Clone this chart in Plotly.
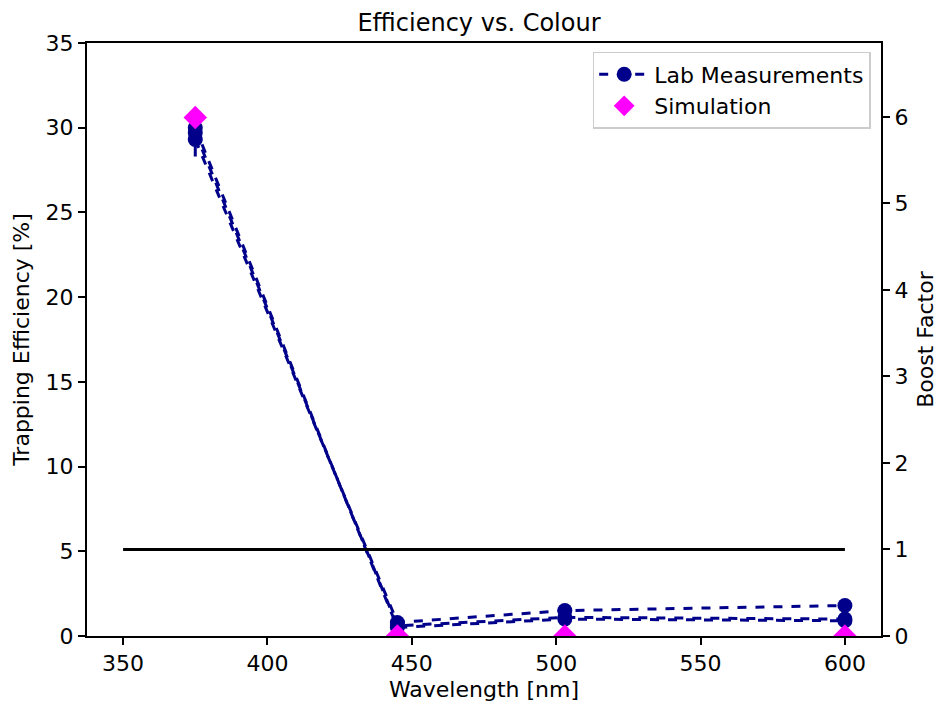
import plotly.graph_objects as go

wavelengths = [375, 445, 503, 600]
lab_series = [
    [29.3, 0.8, 1.5, 1.8],
    [29.7, 0.6, 1.1, 1.0],
    [30.0, 0.5, 1.0, 0.9],
]
lab_errors = [
    [1.0, 0.1, 0.1, 0.1],
    [0.5, 0.1, 0.1, 0.1],
    [0.5, 0.1, 0.1, 0.1],
]
sim_values = [30.6, 0.0, 0.0, 0.0]
boost_x = [350, 600]
boost_y = [1.0, 1.0]

navy = "#00008B"
font = "DejaVu Sans"
fs = 22

fig = go.Figure()
for i, (vals, errs) in enumerate(zip(lab_series, lab_errors)):
    fig.add_trace(go.Scatter(
        x=wavelengths, y=vals, mode="lines+markers",
        name="Lab Measurements", showlegend=(i == 0),
        line=dict(color=navy, width=3, dash="dash"),
        marker=dict(color=navy, size=15, symbol="circle"),
        error_y=dict(type="data", array=errs, color=navy, thickness=3, width=0),
    ))
fig.add_trace(go.Scatter(
    x=wavelengths, y=sim_values, mode="markers", name="Simulation",
    marker=dict(color="#FF00FF", size=18, symbol="diamond"),
))
fig.add_trace(go.Scatter(
    x=boost_x, y=boost_y, mode="lines", showlegend=False, yaxis="y2",
    line=dict(color="black", width=3),
))

axis_common = dict(
    showline=True, linecolor="black", linewidth=2, ticks="outside",
    ticklen=7, tickwidth=1.5, tickcolor="black", showgrid=False,
    zeroline=False, tickfont=dict(size=fs, color="black", family=font),
)
fig.update_layout(
    width=942, height=709,
    paper_bgcolor="white", plot_bgcolor="white",
    margin=dict(l=79, r=69, t=35, b=81, autoexpand=False),
    font=dict(family=font, color="black", size=fs),
    title=dict(text="Efficiency vs. Colour", x=0.5, xanchor="center",
               y=0.979, yanchor="middle", font=dict(size=24)),
    xaxis=dict(range=[337.5, 612.5], tickvals=[350, 400, 450, 500, 550, 600],
               title=dict(text="Wavelength [nm]", standoff=6, font=dict(size=fs)),
               mirror=True, **axis_common),
    yaxis=dict(range=[0, 35], dtick=5,
               title=dict(text="Trapping Efficiency [%]", standoff=10, font=dict(size=fs)),
               **axis_common),
    yaxis2=dict(range=[0, 6.855], dtick=1, overlaying="y", side="right",
                title=dict(text="Boost Factor", standoff=10, font=dict(size=fs)),
                **axis_common),
    legend=dict(x=0.987, y=0.985, xanchor="right", yanchor="top", itemwidth=50,
                bgcolor="rgba(255,255,255,0.8)", bordercolor="#CCCCCC", borderwidth=1.5,
                font=dict(size=fs)),
    showlegend=True,
)
fig.write_html("out.html")
